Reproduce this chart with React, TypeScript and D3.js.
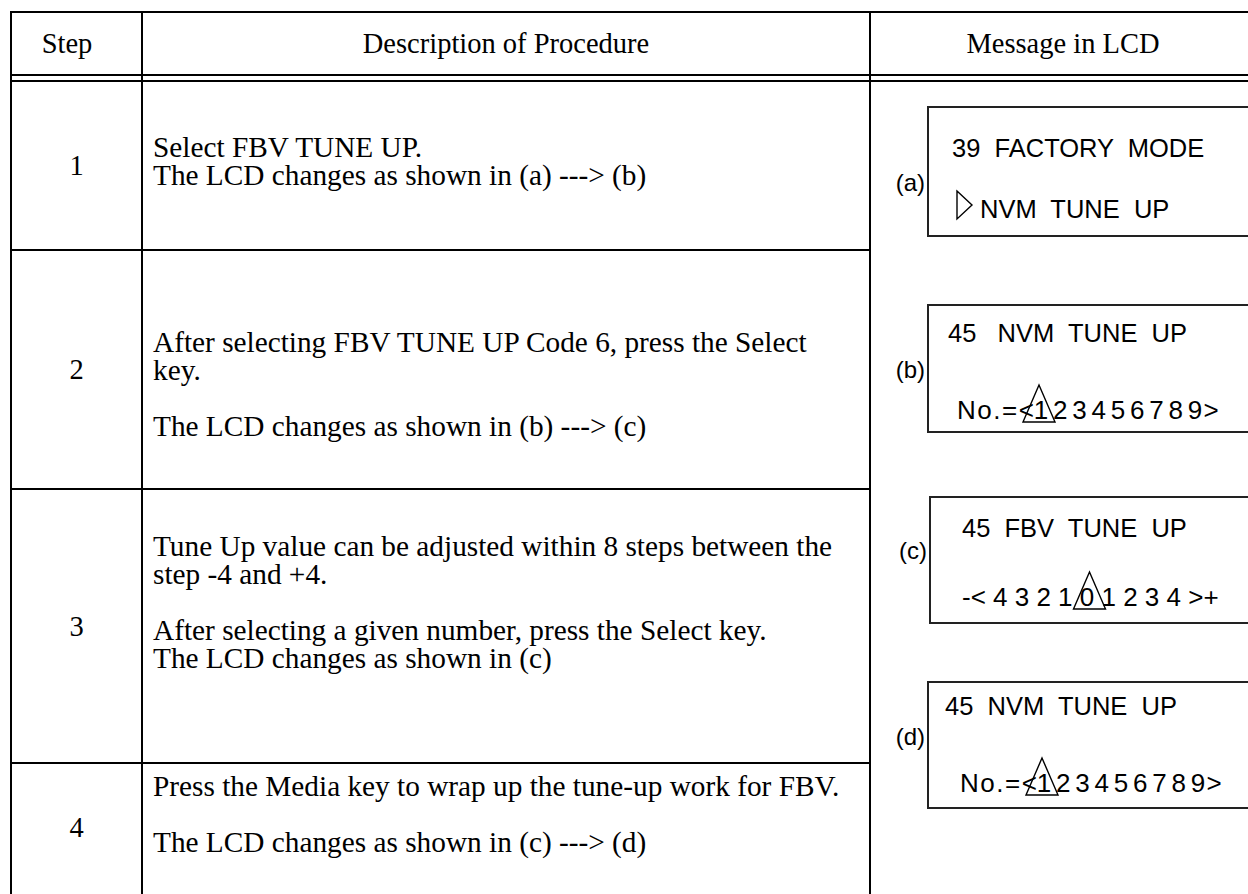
import React from 'react';
import * as d3 from 'd3';

// FBV tune-up procedure table

const headers = ['Step', 'Description of Procedure', 'Message in LCD'];
const steps = ['1', '2', '3', '4'];

// '' = empty line in the cell
const descLines = [
  ['Select FBV TUNE UP.', 'The LCD changes as shown in (a) ---> (b)'],
  ['After selecting FBV TUNE UP Code 6, press the Select', 'key.', '', 'The LCD changes as shown in (b) ---> (c)'],
  [
    'Tune Up value can be adjusted within 8 steps between the',
    'step -4 and +4.',
    '',
    'After selecting a given number, press the Select key.',
    'The LCD changes as shown in (c)',
  ],
  ['Press the Media key to wrap up the tune-up work for FBV.', '', 'The LCD changes as shown in (c) ---> (d)'],
];

const lcdLabels = ['(a)', '(b)', '(c)', '(d)'];
const lcdTitles = ['39  FACTORY  MODE', '45   NVM  TUNE  UP', '45  FBV  TUNE  UP', '45  NVM  TUNE  UP'];
const menuItem = 'NVM  TUNE  UP';
const numberDigits = ['1', '2', '3', '4', '5', '6', '7', '8', '9'];
const tuneScale = '-< 4 3 2 1 0 1 2 3 4 >+';

const W = 1248;
const H = 894;
const colX = [11, 142, 870, 1256];
const rowY = [12, 75, 81, 250, 489, 763, 900];
const headerCx = [67, 506, 1063];
const descBase = [157, 352, 556, 796];
const stepBase = [175, 379, 636, 837];
const lineGap = 28;

const serif = '"Liberation Serif", "Times New Roman", serif';
const sans = '"Liberation Sans", Arial, sans-serif';

// LCD boxes: top, bottom, left, text positions
const boxes = [
  { top: 107, bottom: 236, left: 928, labelY: 191, t1x: 952, t1y: 157, t2x: 957, t2y: 218 },
  { top: 305, bottom: 432, left: 928, labelY: 378, t1x: 948, t1y: 342, t2x: 957, t2y: 419 },
  { top: 497, bottom: 623, left: 930, labelY: 559, t1x: 962, t1y: 537, t2x: 962, t2y: 606 },
  { top: 682, bottom: 808, left: 928, labelY: 745, t1x: 945, t1y: 715, t2x: 960, t2y: 792 },
];

const upTri = (cx: number, base: number) =>
  d3.line()([
    [cx, base - 34],
    [cx + 16, base + 3],
    [cx - 16, base + 3],
  ]) + 'Z';

const NumberLine = ({ x, y }: { x: number; y: number }) => {
  const xs = d3.scalePoint<string>().domain(numberDigits).range([x + 84, x + 238]);
  return (
    <g fontFamily={sans} fontSize={26} fill="#000">
      <text x={x} y={y} letterSpacing={1.5}>No.=&lt;</text>
      {numberDigits.map(d => (
        <text key={d} x={xs(d)} y={y} textAnchor="middle">{d}</text>
      ))}
      <text x={x + 254} y={y} textAnchor="middle">&gt;</text>
      <path d={upTri(xs('1')! - 2, y)} fill="none" stroke="#000" strokeWidth={1.4} />
    </g>
  );
};

const App = () => {
  const lineColor = '#000';
  return (
    <svg width={W} height={H} style={{ position: 'absolute', left: 0, top: 0, background: '#fff' }}>
      <rect width={W} height={H} fill="#fff" />
      {/* header */}
      {headers.map((h, i) => (
        <text key={h} x={headerCx[i]} y={53} textAnchor="middle" fontFamily={serif} fontSize={28.5}>
          {h}
        </text>
      ))}
      {/* grid */}
      <g stroke={lineColor} strokeWidth={2}>
        <line x1={colX[0]} x2={W} y1={rowY[0]} y2={rowY[0]} />
        <line x1={colX[0]} x2={W} y1={rowY[1]} y2={rowY[1]} />
        <line x1={colX[0]} x2={W} y1={rowY[2]} y2={rowY[2]} />
        {[rowY[3], rowY[4], rowY[5]].map(y => (
          <line key={y} x1={colX[0]} x2={colX[2]} y1={y} y2={y} />
        ))}
        {[colX[0], colX[1], colX[2]].map(x => (
          <line key={x} x1={x} x2={x} y1={rowY[0] - 1} y2={H} />
        ))}
      </g>
      {/* step numbers */}
      {steps.map((s, i) => (
        <text key={s} x={(colX[0] + colX[1]) / 2} y={stepBase[i]} textAnchor="middle" fontFamily={serif} fontSize={28.5}>
          {s}
        </text>
      ))}
      {/* descriptions: one text per cell, lines as tspans */}
      {descLines.map((lines, i) => (
        <text key={i} x={153} y={descBase[i]} fontFamily={serif} fontSize={29.3} style={{ whiteSpace: 'pre' }}>
          {lines.map((l, j) => (
            <tspan key={j} x={153} y={descBase[i] + j * lineGap}>
              {l || ' '}
            </tspan>
          ))}
        </text>
      ))}
      {/* LCD panels */}
      {boxes.map((b, i) => (
        <g key={i}>
          <rect
            x={b.left}
            y={b.top}
            width={W - b.left + 10}
            height={b.bottom - b.top}
            fill="none"
            stroke="#222"
            strokeWidth={2}
          />
          <text x={b.left - 3} y={b.labelY} textAnchor="end" fontFamily={sans} fontSize={24}>
            {lcdLabels[i]}
          </text>
          <text x={b.t1x} y={b.t1y} fontFamily={sans} fontSize={25.5} style={{ whiteSpace: 'pre' }}>
            {lcdTitles[i]}
          </text>
        </g>
      ))}
      {/* (a) second line */}
      <path
        d={d3.line()([[boxes[0].t2x, boxes[0].t2y - 27], [boxes[0].t2x + 15, boxes[0].t2y - 13], [boxes[0].t2x, boxes[0].t2y + 1]]) + 'Z'}
        fill="none"
        stroke="#000"
        strokeWidth={1.4}
      />
      <text x={980} y={boxes[0].t2y} fontFamily={sans} fontSize={25.5} style={{ whiteSpace: 'pre' }}>
        {menuItem}
      </text>
      {/* (b), (d) number lines */}
      <NumberLine x={boxes[1].t2x} y={boxes[1].t2y} />
      <NumberLine x={boxes[3].t2x} y={boxes[3].t2y} />
      {/* (c) tune scale */}
      <text x={boxes[2].t2x} y={boxes[2].t2y} fontFamily={sans} fontSize={26} style={{ whiteSpace: 'pre' }}>
        {tuneScale}
      </text>
      <path d={upTri(1089.5, boxes[2].t2y)} fill="none" stroke="#000" strokeWidth={1.4} />
    </svg>
  );
};

export default App;
